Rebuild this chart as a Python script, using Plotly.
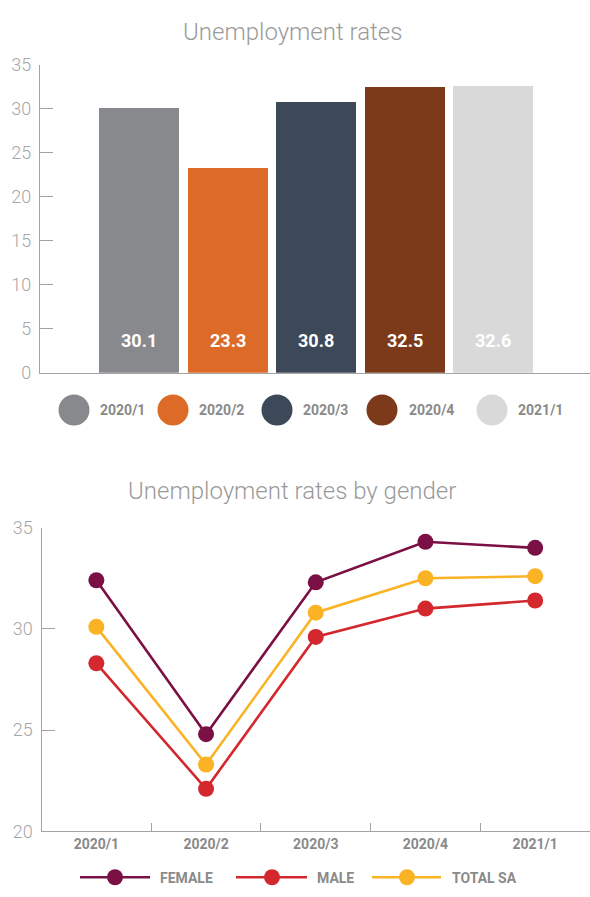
import plotly.graph_objects as go

# ---------------- data ----------------
quarters = ["2020/1", "2020/2", "2020/3", "2020/4", "2021/1"]
rates = [30.1, 23.3, 30.8, 32.5, 32.6]
bar_colors = ["#88898d", "#dd6a27", "#3d4959", "#7c3a1b", "#d9d9da"]

female = [32.4, 24.8, 32.3, 34.3, 34.0]
male = [28.3, 22.1, 29.6, 31.0, 31.4]
total_sa = [30.1, 23.3, 30.8, 32.5, 32.6]
series_names = ["FEMALE", "MALE", "TOTAL SA"]
series_values = [female, male, total_sa]
series_colors = ["#7b1045", "#d3282e", "#fbb326"]

top_yticks = [0, 5, 10, 15, 20, 25, 30, 35]
bottom_yticks = [20, 25, 30, 35]

title_top = "Unemployment rates"
title_bottom = "Unemployment rates by gender"

# ---------------- layout helpers ----------------
W, H = 590, 897
def px(x):
    return x / W
def py(y):
    return 1 - y / H

AXIS = "#a3a3a3"
TICKFONT = dict(family="Roboto", size=18, color="#a6a6a6", weight=300)
LABELFONT = dict(family="Roboto", size=14, color="#8a8a8a", weight=700)
TITLEFONT = dict(family="Roboto", size=24, color="#9a9a9a", weight=300)

fig = go.Figure()

# top bars
fig.add_trace(go.Bar(
    x=quarters, y=rates, marker=dict(color=bar_colors, line=dict(width=0)),
    width=0.904, xaxis="x", yaxis="y", showlegend=False, hoverinfo="x+y"))

# bottom lines
for name, vals, col in zip(series_names, series_values, series_colors):
    fig.add_trace(go.Scatter(
        x=quarters, y=vals, mode="lines+markers", name=name,
        line=dict(color=col, width=2.6),
        marker=dict(color=col, size=16),
        xaxis="x2", yaxis="y2", showlegend=False))

annotations = []
shapes = []

# titles
annotations.append(dict(text=title_top, x=px(292), y=py(21), xref="paper", yref="paper",
                        showarrow=False, xanchor="center", yanchor="middle", font=TITLEFONT))
annotations.append(dict(text=title_bottom, x=px(292), y=py(491), xref="paper", yref="paper",
                        showarrow=False, xanchor="center", yanchor="middle", font=TITLEFONT))

# bar value labels
for q, v in zip(quarters, rates):
    annotations.append(dict(text=f"{v:.1f}", x=q, y=3.7, xref="x", yref="y",
                            showarrow=False, xanchor="center", yanchor="middle",
                            font=dict(family="Roboto", size=18, color="white", weight=700)))

# top legend (circles)
top_leg_cx = [74, 173, 277, 382, 492]
top_leg_tx = [98, 197, 301, 407, 516]
for q, col, cx, tx in zip(quarters, bar_colors, top_leg_cx, top_leg_tx):
    shapes.append(dict(type="circle", xref="paper", yref="paper",
                       xsizemode="pixel", ysizemode="pixel",
                       xanchor=px(cx), yanchor=py(408.5),
                       x0=-15.5, x1=15.5, y0=-15.5, y1=15.5,
                       fillcolor=col, line=dict(width=0)))
    annotations.append(dict(text=q, x=px(tx), y=py(409), xref="paper", yref="paper",
                            showarrow=False, xanchor="left", yanchor="middle", font=LABELFONT))

# bottom legend (line + marker)
bl = [(80, 150, 115, 158), (236, 307, 272, 315), (372, 441, 407, 450)]
for name, col, (l0, l1, mc, tx) in zip(series_names, series_colors, bl):
    shapes.append(dict(type="line", xref="paper", yref="paper",
                       x0=px(l0), x1=px(l1), y0=py(887), y1=py(887),
                       line=dict(color=col, width=2.6)))
    shapes.append(dict(type="circle", xref="paper", yref="paper",
                       xsizemode="pixel", ysizemode="pixel",
                       xanchor=px(mc), yanchor=py(887),
                       x0=-8, x1=8, y0=-8, y1=8,
                       fillcolor=col, line=dict(width=0)))
    annotations.append(dict(text=name, x=px(tx), y=py(888), xref="paper", yref="paper",
                            showarrow=False, xanchor="left", yanchor="middle", font=LABELFONT))

fig.update_layout(
    width=W, height=H,
    margin=dict(l=0, r=0, t=0, b=0),
    paper_bgcolor="white", plot_bgcolor="white",
    font=dict(family="Roboto"),
    xaxis=dict(domain=[px(40), 1], range=[-1.124, 5.096], type="category",
               showticklabels=False, ticks="", showgrid=False, zeroline=False,
               showline=True, linecolor=AXIS, linewidth=1.3, anchor="y"),
    yaxis=dict(domain=[py(370.5), py(55)], range=[0, 35], tickvals=top_yticks,
               ticks="inside", ticklen=13, tickcolor=AXIS, tickwidth=1.3,
               showgrid=False, zeroline=False, showline=True, linecolor=AXIS,
               linewidth=1.3, tickfont=TICKFONT, ticklabelstandoff=4, anchor="x"),
    xaxis2=dict(domain=[px(41.5), 1], range=[-0.5, 4.5], type="category",
                tickson="boundaries", ticks="inside", ticklen=8, tickcolor=AXIS,
                tickwidth=1.3, showgrid=False, zeroline=False, showline=True,
                linecolor=AXIS, linewidth=1.3, tickfont=LABELFONT, anchor="y2"),
    yaxis2=dict(domain=[py(840), py(529)], range=[20, 35], tickvals=bottom_yticks,
                ticks="inside", ticklen=13, tickcolor=AXIS, tickwidth=1.3,
                showgrid=False, zeroline=False, showline=True, linecolor=AXIS,
                linewidth=1.3, tickfont=TICKFONT, ticklabelstandoff=4, anchor="x2"),
    annotations=annotations,
    shapes=shapes,
    bargap=0,
)

fig.write_html(
    "out.html",
    config={"displayModeBar": False},
    post_script="document.body.style.margin='0';document.body.style.overflow='hidden';",
)
